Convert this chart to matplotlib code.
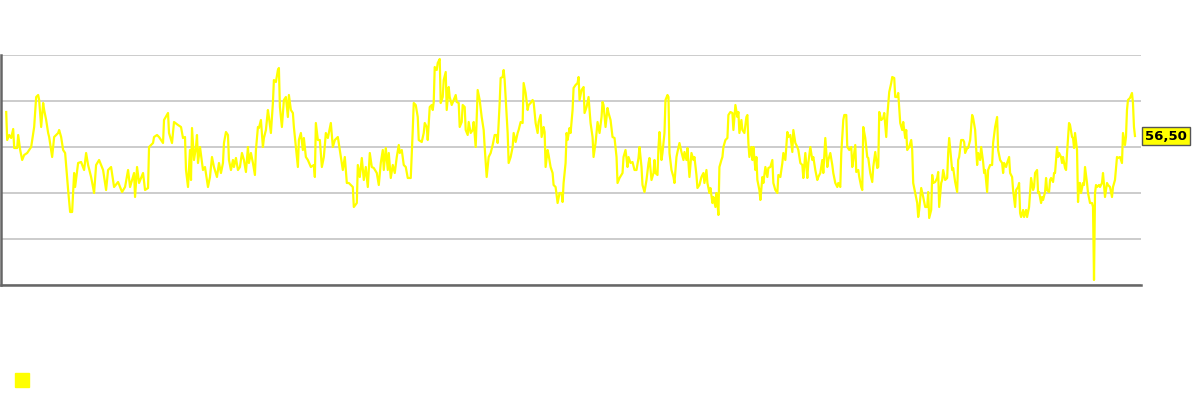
import numpy as np
import matplotlib
matplotlib.use("Agg")
from matplotlib import pyplot as plt
from matplotlib.patches import Rectangle

# sample positions along the (unlabelled) time axis
t = [5, 6, 8, 10, 12, 13, 16, 17, 19, 21, 23, 26, 30, 33, 35, 37, 38, 40, 42, 43,
     45, 47, 48, 50, 51, 53, 57, 58, 60, 62, 64, 67, 69, 71, 73, 74, 77, 80, 83, 85,
     87, 90, 93, 95, 98, 102, 105, 107, 110, 113, 117, 121, 124, 127, 129, 133, 134, 136, 138, 142,
     144, 147, 148, 152, 153, 156, 158, 162, 163, 167, 168, 171, 173, 177, 180, 182, 184, 185, 187, 189,
     190, 191, 193, 195, 196, 197, 199, 202, 204, 206, 207, 209, 211, 213, 216, 218, 220, 222, 223, 225,
     227, 228, 230, 232, 233, 235, 237, 239, 241, 243, 245, 247, 248, 250, 252, 254, 255, 257, 258, 260,
     262, 263, 265, 267, 268, 270, 272, 273, 275, 277, 278, 279, 281, 283, 285, 287, 288, 290, 292, 293,
     295, 297, 298, 300, 302, 303, 305, 307, 310, 313, 314, 315, 317, 319, 321, 323, 325, 327, 330, 332,
     334, 337, 339, 342, 344, 346, 348, 352, 353, 356, 357, 359, 361, 363, 365, 367, 369, 371, 373, 376,
     378, 380, 382, 383, 385, 387, 388, 390, 392, 394, 396, 398, 399, 401, 403, 405, 407, 410, 412, 413,
     415, 417, 418, 421, 423, 424, 426, 427, 429, 431, 432, 433, 434, 436, 437, 439, 440, 442, 443, 445,
     446, 448, 449, 451, 453, 455, 456, 458, 459, 461, 462, 464, 465, 467, 468, 470, 472, 473, 475, 477,
     479, 481, 483, 484, 486, 488, 490, 492, 494, 496, 497, 499, 500, 502, 503, 504, 505, 507, 508, 510,
     512, 513, 515, 517, 518, 520, 522, 523, 525, 527, 528, 530, 532, 533, 535, 537, 538, 540, 541, 543,
     544, 545, 547, 548, 550, 552, 553, 555, 557, 559, 561, 562, 563, 565, 566, 567, 569,
     570, 572, 573, 575, 577, 578, 579, 581, 583, 584, 586, 588, 590, 592, 593, 595, 597, 599, 601, 602,
     603, 605, 607, 608, 610, 612, 614, 616, 617, 619, 622, 623, 625, 627, 628, 630, 632, 634, 636, 638,
     639, 641, 642, 644, 646, 648, 649, 651, 653, 654, 655, 657, 658, 659, 661, 662, 664, 665, 667, 668,
     669, 671, 673, 674, 676, 677, 679, 681, 683, 684, 686, 687, 689, 691, 693, 694, 696, 697, 699, 701,
     703, 704, 706, 707, 709, 710, 712, 713, 715, 716, 717, 718, 719, 721, 722, 723, 725, 727, 728, 730,
     732, 733, 735, 737, 738, 739, 741, 742, 744, 746, 747, 748, 749, 751, 752, 753, 755, 756, 757, 759,
     760, 762, 763, 765, 767, 768, 770, 772, 773, 775, 777, 778, 780, 782, 783, 785, 787, 788, 790, 792,
     793, 795, 797, 798, 800, 802, 803, 805, 807, 808, 810, 812, 813, 815, 817, 818, 820, 822, 823, 825,
     827, 828, 830, 832, 833, 835, 837, 838, 840, 841, 843, 844, 846, 847, 849, 851, 852, 853, 855, 856,
     858, 859, 861, 862, 863, 865, 867, 868, 870, 872, 873, 875, 877, 878, 879, 881, 883, 884, 886, 887,
     889, 891, 892, 894, 895, 897, 898, 900, 902, 903, 905, 906, 907, 909, 911, 912, 913, 915, 917, 918,
     919, 921, 923, 925, 927, 928, 929, 931, 932, 933, 935, 937, 938, 939, 941, 942, 943, 945, 947, 948,
     949, 952, 953, 955, 957, 958, 959, 961, 963, 964, 965, 967, 968, 970, 972, 973, 975, 977, 978, 980,
     981, 983, 984, 985, 987, 988, 990, 992, 993, 995, 997, 998, 1000, 1002, 1003, 1004, 1006, 1007, 1009, 1010,
     1012, 1013, 1015, 1016, 1018, 1019, 1020, 1021, 1023, 1024, 1026, 1027, 1029, 1030, 1031, 1033, 1034, 1035, 1037, 1038,
     1039, 1041, 1042, 1043, 1045, 1046, 1047, 1049, 1050, 1051, 1053, 1054, 1055, 1057, 1058, 1059, 1061, 1062, 1063, 1065,
     1066, 1067, 1069, 1070, 1072, 1073, 1074, 1075, 1077, 1078, 1079, 1080, 1081, 1083, 1084, 1085, 1087, 1088, 1090, 1092,
     1093, 1094, 1095, 1096, 1097, 1099, 1100, 1102, 1103, 1105, 1107, 1108, 1110, 1112, 1113, 1115, 1117, 1118, 1120, 1122,
     1123, 1125, 1126, 1127, 1128, 1130, 1132, 1133, 1134, 1135]

values = [62.5, 55.5, 56.75, 56, 58.25, 53.5, 53.5, 56.75, 53, 50.5, 51.75, 52.25, 53.75, 58.75, 66.25, 66.75, 65.5, 58.75, 64.75, 63,
          60.5, 57.25, 56.25, 53, 51.25, 56.25, 57.25, 58, 56.25, 53, 52.25, 43, 37.5, 37.5, 47.25, 43.75, 49.75, 50, 48, 52.25,
          49.25, 46.25, 42.25, 49.25, 50.5, 48, 43, 48, 48.75, 43.75, 45, 42.5, 43.75, 48, 43.75, 47.25, 41.25, 48.75, 44.75, 47.25,
          43, 43.5, 53.75, 54.75, 56.25, 56.75, 56.25, 54.75, 60.5, 62.25, 57.25, 54.75, 60, 59.25, 58.75, 56, 56.25, 48, 43.75, 53,
          45.5, 58.5, 50.5, 53.75, 56.75, 49.75, 53.75, 48, 48.75, 45.5, 43.75, 46.25, 51.25, 48.75, 46.25, 49.75, 47.25, 49.75, 54.75, 57.5,
          56.75, 50.5, 48, 50.5, 48.75, 51, 48, 48.75, 52.25, 50.5, 47.5, 53.75, 49.75, 52.25, 49.75, 46.75, 53, 58.75, 58.5, 60.5,
          53.75, 56, 58, 63, 61.25, 57.25, 64.75, 70.5, 70, 73, 73.5, 63.75, 58.75, 65.5, 66.25, 61.25, 66.75, 63, 62.25, 58.75,
          53.75, 48.75, 55.5, 57.25, 53, 56, 51.25, 50.5, 48.75, 49.25, 46.25, 59.75, 55.5, 55.5, 48.75, 51.25, 57.25, 56, 59.75, 53.75,
          55.5, 56.25, 53, 48, 51.25, 44.75, 44.75, 43.75, 38.75, 39.75, 49.25, 46.25, 51, 45.5, 48.75, 43.75, 52.25, 48.75, 48.5, 47.25,
          44.25, 49.75, 53, 48, 53.5, 48, 52.25, 46, 49.25, 47.25, 51.25, 54.25, 52.25, 53, 49.25, 48.75, 46, 46, 58, 64.75,
          64.25, 61.25, 55.5, 55, 57.25, 59.75, 58.75, 55.5, 63.75, 64.25, 63, 65, 73.75, 73, 74.75, 75.75, 64.75, 66.25, 70.5, 72.5,
          63, 68.75, 66.25, 64.25, 65.5, 66.75, 65, 64.75, 58.75, 60, 64.25, 63.75, 58, 56.75, 60, 57.25, 58, 60, 53.75, 68,
          65.5, 61.25, 58, 53.75, 46.25, 51.25, 52.25, 54.25, 56.75, 56.75, 54.75, 64.75, 71, 71.25, 73, 70.5, 66, 57.25, 49.75, 51.25,
          53.75, 57.25, 55, 57.25, 58, 60, 59.75, 69.75, 67.25, 63, 64.25, 64.75, 65.5, 65, 59.75, 57.25, 60, 61.75, 56.25, 58.75,
          57.5, 48.75, 53, 51.75, 48.75, 47.25, 44.25, 43.75, 39.75, 42.25, 42.25, 40, 44.75, 49.75, 57.25, 55.5, 58.5,
          57.25, 63, 68.5, 69.25, 69.75, 71.25, 65.5, 68, 68.75, 62.25, 63.75, 66.25, 59.75, 56.25, 51.25, 54.75, 60, 57.25, 61.25, 65,
          64.25, 58.75, 63.5, 62.25, 60.5, 56.25, 56, 51.25, 44.75, 46, 47.25, 51.25, 53, 48.75, 51.25, 49.75, 50, 48, 48, 51,
          53.75, 48.75, 44.25, 42.5, 45.5, 49.75, 51, 45.5, 47.25, 50.5, 47.25, 46.75, 53.75, 57.5, 50.5, 52.25, 57.25, 65.5, 66.75, 66.25,
          52.25, 48, 46.25, 44.75, 51.25, 52.5, 54.75, 52.5, 50.5, 52.5, 50.5, 53.5, 46.25, 52.25, 50.5, 51.25, 46.75, 43.5, 44.25, 46.25,
          47.25, 44.75, 48, 44.75, 42.25, 43.5, 39.75, 41.25, 38.75, 42.25, 39.75, 36.75, 48.75, 50.5, 51.25, 53.75, 55.5, 56, 61.75, 62.5,
          62.25, 58, 64.25, 61.25, 62.5, 57.25, 60.5, 58, 57.25, 61.25, 61.75, 54.75, 51.25, 53.75, 50.5, 53.75, 48, 51.25, 45.5, 43,
          40.5, 46.25, 44.75, 48.75, 46.25, 48.5, 48.75, 50.5, 44.75, 43, 42.25, 46.75, 46.25, 49.75, 52.25, 50.5, 57.5, 56.25, 56.75, 52.5,
          58, 54.75, 53.75, 53, 49.75, 49.25, 46, 52.25, 46, 49.75, 53.75, 50.5, 51.25, 48, 45.5, 46.25, 47.25, 50.5, 47.25, 56,
          48.75, 50.5, 52.25, 49.25, 47.25, 44.75, 43.75, 44.75, 43.75, 52.25, 60.5, 61.75, 61.75, 53.75, 53, 53.75, 48.75, 50.5, 54.25, 47.5,
          48, 46.25, 43.75, 43, 58.75, 56, 51.25, 51, 47.25, 45, 48.75, 52.5, 48.5, 48.75, 62.5, 60.5, 61, 62.25, 56.25, 61.25,
          67.5, 69.75, 71.25, 71, 66.25, 66.25, 67.25, 59.75, 58, 60, 56, 58, 53, 53.75, 55.5, 53, 44.75, 42.25, 39.75, 36.25,
          38, 43.5, 41.25, 38.75, 38.75, 42.5, 36, 38, 46.75, 44.75, 45, 46, 47.5, 38.75, 44.75, 45.5, 48, 45.5, 46, 52.25,
          56, 48, 48.5, 45, 42.5, 50.5, 51.25, 55.5, 55.5, 55, 52.25, 53.5, 53.5, 55.5, 61.75, 61, 58, 49.25, 52.25, 50.5,
          53.75, 50, 47.25, 48, 42.5, 48, 49.25, 49.25, 54.75, 58.75, 61.25, 53, 50.5, 49.75, 47.25, 49.75, 48.75, 49.75, 51.25, 47.25,
          46.25, 43, 38.75, 43, 43.75, 44.75, 37.25, 36.25, 38, 36.25, 38, 36.25, 38.75, 42.25, 46, 43, 43.75, 47.25, 48, 42.25,
          42.5, 39.75, 41.25, 40.5, 42.5, 46, 43, 42.5, 45.5, 46, 45, 47.25, 47.25, 53.75, 51.25, 52.25, 51.25, 49.75, 51.25, 48.5,
          48, 52.25, 59.75, 59.25, 56.25, 56, 53.5, 57.25, 53, 40, 44.75, 44.75, 42.25, 44.75, 44.25, 48.75, 44.75, 42.25, 39.75, 39.75,
          38.75, 20.5, 42.25, 44.25, 43.75, 44.25, 43.75, 44.75, 47.25, 41.25, 44.75, 44.25, 43.75, 41.25, 43.75, 45.5, 51.25, 51, 51.25, 49.75,
          57.25, 54.25, 56.25, 63, 65.5, 66, 67.25, 64.75, 58.75, 56.5]

last_label = "56,50"
y_min, y_max = 19.25, 76.75

fig = plt.figure(figsize=(12, 4), dpi=100)
ax = fig.add_axes([0.001, 0.2875, 0.9498, 0.575])

ax.plot(t, values, color="#ffff00", lw=1.6, zorder=3)

ax.set_xlim(0, 1141)
ax.set_ylim(y_min, y_max)
ax.set_yticks(np.linspace(y_min, y_max, 6))
ax.set_xticks([])
ax.tick_params(left=False, labelleft=False)
ax.grid(axis="y", color="#cccccc", lw=1.4)
ax.set_axisbelow(True)
for s in ["top", "right"]:
    ax.spines[s].set_visible(False)
for s in ["left", "bottom"]:
    ax.spines[s].set_color("#666666")
    ax.spines[s].set_linewidth(1.8)

ax.annotate(last_label, xy=(1.0, values[-1]), xycoords=("axes fraction", "data"),
            xytext=(3, 0), textcoords="offset points", ha="left", va="center",
            fontsize=9.5, fontweight="bold", color="black",
            bbox=dict(boxstyle="square,pad=0.22", fc="#ffff00", ec="#555555", lw=1))

# legend marker without text
fig.add_artist(Rectangle((15 / 1200, 1 - 387 / 400), 14 / 1200, 14 / 400,
                         transform=fig.transFigure, color="#ffff00"))

fig.savefig("out.png", dpi=100)
